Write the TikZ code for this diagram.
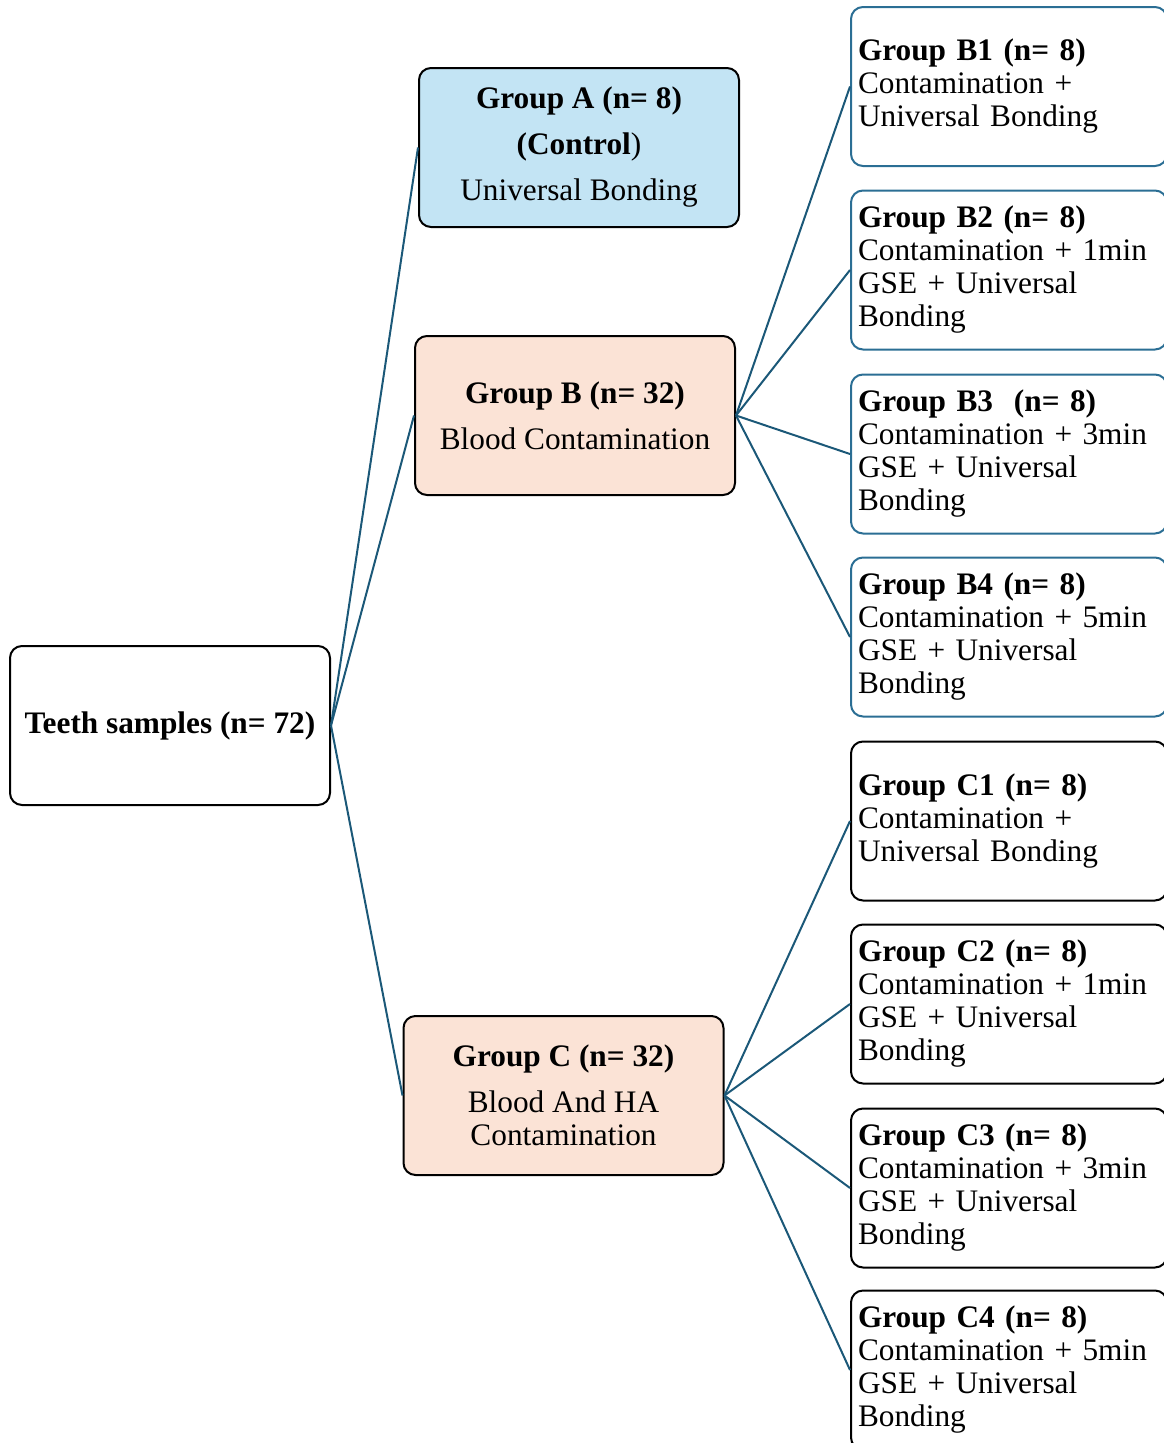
\documentclass[tikz,border=0pt]{standalone}
\usepackage{fontspec}
\setmainfont{Liberation Serif}
\definecolor{edgeblue}{HTML}{1B5878}
\definecolor{bborder}{HTML}{2B6E94}
\definecolor{afill}{HTML}{C3E4F4}
\definecolor{peach}{HTML}{FBE3D6}
\begin{document}
\begin{tikzpicture}[x=1pt,y=-1pt,
  box/.style={draw=black, rounded corners=12pt, line width=2pt, minimum width=320pt,
    minimum height=159pt, inner sep=0pt, align=center, font=\fontsize{31.3}{46}\selectfont},
  rbox/.style={draw=black, rounded corners=12pt, line width=2pt, minimum width=316pt,
    minimum height=159pt, inner xsep=7pt, inner ysep=0pt, text width=302pt, align=left,
    font=\fontsize{31.3}{33}\selectfont},
  bbox/.style={rbox, draw=bborder},
  link/.style={draw=edgeblue, line width=2pt}]
\useasboundingbox (0,0) rectangle (1164,1443);
\clip (0,0) rectangle (1164,1443);

\node[box] (teeth) at (170,725.5) {\textbf{Teeth samples (n= 72)}};
\node[box, fill=afill] (A) at (579,147.5) {\textbf{Group A (n= 8)}\\\textbf{(Control})\\Universal Bonding};
\node[box, fill=peach] (B) at (575,415.5) {\textbf{Group B (n= 32)}\\Blood Contamination};
\node[box, fill=peach, font=\fontsize{31.3}{33}\selectfont] (C) at (563.5,1095.5) {\textbf{Group C (n= 32)}\\[13pt]Blood And HA\\Contamination};

\node[bbox] (B1) at (1009,86.5) {\textbf{Group B1 (n= 8)}\\Contamination +\\Universal Bonding};
\node[bbox] (B2) at (1009,270) {\textbf{Group B2 (n= 8)}\\Contamination + 1min\\GSE + Universal\\Bonding};
\node[bbox] (B3) at (1009,454) {\textbf{Group B3 \ (n= 8)}\\Contamination + 3min\\GSE + Universal\\Bonding};
\node[bbox] (B4) at (1009,637) {\textbf{Group B4 (n= 8)}\\Contamination + 5min\\GSE + Universal\\Bonding};
\node[rbox] (C1) at (1009,821) {\textbf{Group C1 (n= 8)}\\Contamination +\\Universal Bonding};
\node[rbox] (C2) at (1009,1004) {\textbf{Group C2 (n= 8)}\\Contamination + 1min\\GSE + Universal\\Bonding};
\node[rbox] (C3) at (1009,1188) {\textbf{Group C3 (n= 8)}\\Contamination + 3min\\GSE + Universal\\Bonding};
\node[rbox] (C4) at (1009,1370) {\textbf{Group C4 (n= 8)}\\Contamination + 5min\\GSE + Universal\\Bonding};

\draw[link] (teeth.east) -- (A.west);
\draw[link] (teeth.east) -- (B.west);
\draw[link] (teeth.east) -- (C.west);
\foreach \n in {B1,B2,B3,B4} \draw[link] (B.east) -- (\n.west);
\foreach \n in {C1,C2,C3,C4} \draw[link] (C.east) -- (\n.west);
\end{tikzpicture}
\end{document}
